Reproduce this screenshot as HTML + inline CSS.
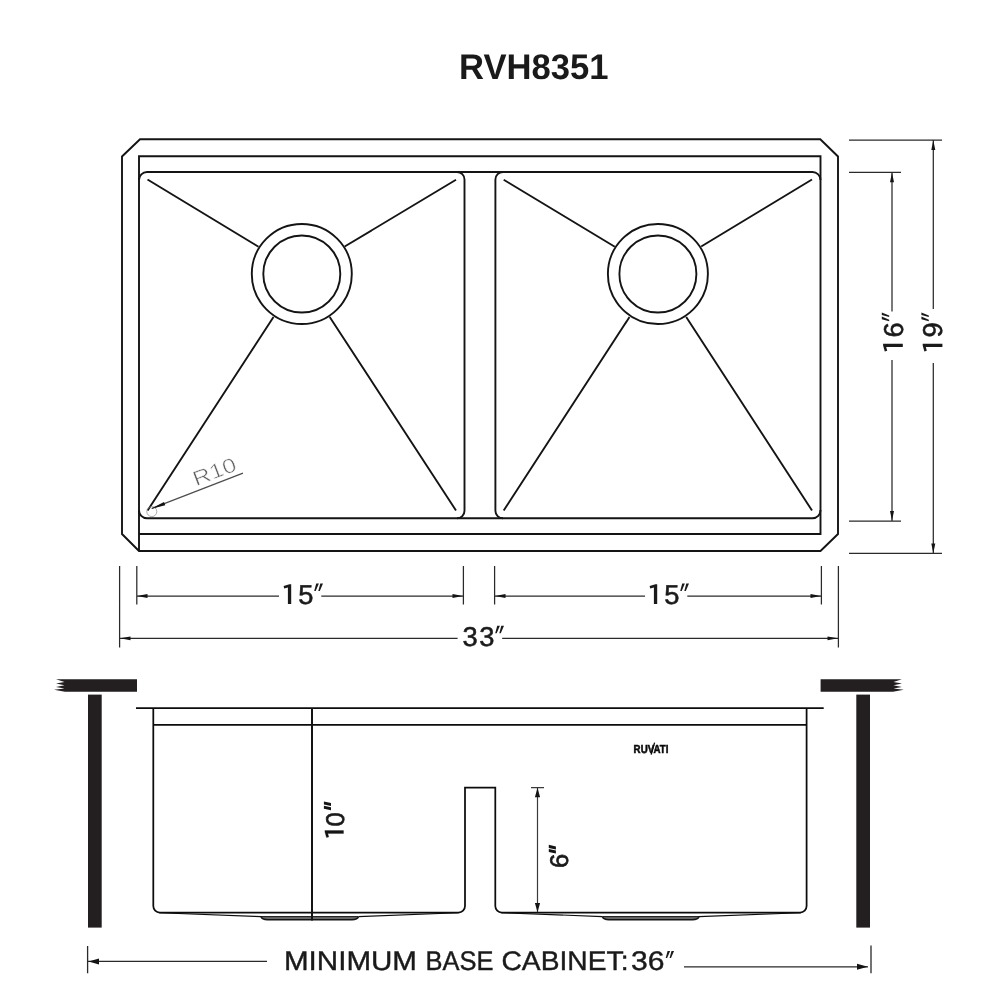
<!DOCTYPE html>
<html>
<head>
<meta charset="utf-8">
<title>RVH8351</title>
<style>
  html, body { margin: 0; padding: 0; background: #ffffff; }
  body { width: 1000px; height: 1000px; overflow: hidden; font-family: "Liberation Sans", sans-serif; }
  svg { display: block; position: absolute; left: 0; top: 0; }
  text { font-family: "Liberation Sans", sans-serif; fill: #1a1a1a; text-rendering: geometricPrecision; }
</style>
</head>
<body>
<svg width="1000" height="1000" viewBox="0 0 1000 1000">
  <rect x="0" y="0" width="1000" height="1000" fill="#ffffff"/>
  <defs><filter id="idf" x="0" y="0" width="1000" height="1000" filterUnits="userSpaceOnUse"><feOffset dx="0" dy="0"/></filter></defs>
  <g id="all" filter="url(#idf)">

  <!-- ================= TITLE ================= -->
  <text id="title" x="533.8" y="79.2" font-size="35.6" font-weight="bold" text-anchor="middle" textLength="149.5" lengthAdjust="spacingAndGlyphs">RVH8351</text>

  <!-- ================= TOP VIEW ================= -->
  <g id="topview" fill="none" stroke="#141414" stroke-width="1.9" stroke-linecap="butt" stroke-linejoin="miter">
    <!-- outer chamfered outline -->
    <path d="M140 139.2 H820.3 L838 156.5 V534 L820.5 551 H139 L122 534 V156.5 Z"/>
    <!-- inner ledge -->
    <path d="M139 551 V156.2 H820.5 V534 H139"/>
    <!-- bowls -->
    <path d="M139 180 A8 8 0 0 1 147 172 H457 A7.5 7.5 0 0 1 464.5 179.5 V510.7 A7.5 7.5 0 0 1 457 518.3 H147 A8 8 0 0 1 139 510"/>
    <path d="M820.5 180 A8 8 0 0 0 812.5 172 H503 A7.5 7.5 0 0 0 495.4 179.5 V510.7 A7.5 7.5 0 0 0 503 518.3 H812.5 A8 8 0 0 0 820.5 510"/>
    <path d="M457 172 H503 M457 518.3 H503"/>
    <!-- drains -->
    <circle cx="301.8" cy="274" r="50"/>
    <circle cx="301.8" cy="274" r="38.5"/>
    <circle cx="657.9" cy="274" r="50"/>
    <circle cx="657.9" cy="274" r="38.5"/>
    <!-- creases left bowl -->
    <path d="M147.5 179.5 L258.5 246.8 M456 179.8 L344.7 246.5 M147.6 510.4 L273.5 317 M456 510.4 L329.7 317"/>
    <!-- creases right bowl -->
    <path d="M503.7 179.8 L614.8 246.8 M812 179.5 L701.2 246.5 M503.7 510.4 L629.5 317 M812 510.4 L686.2 317"/>
  </g>

  <!-- R10 callout -->
  <g id="r10" fill="none" stroke="#4d4d4d" stroke-width="1.25">
    <path d="M152 508.4 L243 473.2"/>
    <circle cx="151.8" cy="511.6" r="5" stroke="#8a8a8a" stroke-width="0.7"/>
    <path d="M150.5 508.9 L165.3 505.3 L164 501.9 Z" fill="#141414" stroke="none"/>
  </g>
  <text x="0" y="0" font-size="20.5" transform="translate(196 486.2) rotate(-21)" textLength="45" lengthAdjust="spacingAndGlyphs" style="fill:#606060" stroke="#ffffff" stroke-width="0.55">R10</text>

  <!-- ================= DIMENSIONS (top view) ================= -->
  <g id="dims" fill="none" stroke="#2a2a2a" stroke-width="1.25">
    <!-- right extension lines -->
    <path d="M849 140 H942 M849 172.3 H901 M849 521 H901 M849 553.4 H942"/>
    <!-- 16 -->
    <path d="M892 172.3 V311.5 M892 360 V521"/>
    <!-- 19 -->
    <path d="M933.3 140 V309 M933.3 363 V553.4"/>
    <!-- bottom extension lines -->
    <path d="M119.6 566 V647.5 M136.8 566 V604.5 M463.4 566 V604.5 M494.6 566 V604.5 M821.4 566 V604.5 M838.4 566 V647.5"/>
    <!-- 15 left -->
    <path d="M137 596 H279 M321.3 596 H463"/>
    <!-- 15 right -->
    <path d="M495 596 H645 M687.3 596 H821"/>
    <!-- 33 -->
    <path d="M120 638.3 H457.6 M502.2 638.3 H838"/>
  </g>
  <g id="arrows" fill="#141414" stroke="none">
    <!-- 16 arrows -->
    <path d="M892 172.5 L890 182.3 H894 Z M892 520.8 L890 511 H894 Z"/>
    <!-- 19 arrows -->
    <path d="M933.3 140.2 L931.3 150 H935.3 Z M933.3 553.2 L931.3 543.4 H935.3 Z"/>
    <!-- 15 left -->
    <path d="M137 596 L147.5 594.1 V597.9 Z M463 596 L452.5 594.1 V597.9 Z"/>
    <!-- 15 right -->
    <path d="M495 596 L505.5 594.1 V597.9 Z M821 596 L810.5 594.1 V597.9 Z"/>
    <!-- 33 -->
    <path d="M120 638.3 L130.5 636.4 V640.2 Z M838 638.3 L827.5 636.4 V640.2 Z"/>
  </g>

  <!-- dimension labels -->
  <defs>
    <path id="one" d="M7.6 -19.7 H5.9 L0 -18 L0.6 -15.6 L4.3 -16.6 V0 H7.6 Z"/>
    <path id="dp" d="M2.2 -20.4 H4.9 L1.7 -13 H0.2 Z M6.3 -20.4 H9 L5.8 -13 H4.3 Z"/>
    <path id="dpb" d="M1.5 -19.6 H4.6 L3 -12.5 H0 Z M5.7 -19.6 H8.8 L7.2 -12.5 H4.2 Z"/>
  </defs>
  <g id="labels" font-size="27.3" text-anchor="middle" fill="#1a1a1a" stroke="#1a1a1a" stroke-width="0.55">
    <g transform="translate(283.6 604)"><use href="#one" stroke="none"/><text x="22.2" y="0">5</text><use href="#dp" x="30.4" stroke="none"/></g>
    <g transform="translate(649.6 604)"><use href="#one" stroke="none"/><text x="22.2" y="0">5</text><use href="#dp" x="30.4" stroke="none"/></g>
    <g transform="translate(0 646.2)"><text x="470.2" y="0">3</text><text x="486.8" y="0">3</text><use href="#dp" x="495" stroke="none"/></g>
    <g transform="translate(902.8 351.4) rotate(-90)"><use href="#one" stroke="none"/><text x="21.4" y="0">6</text><use href="#dp" x="30" y="-0.6" stroke="none"/></g>
    <g transform="translate(942.4 351.4) rotate(-90)"><use href="#one" stroke="none"/><text x="21.4" y="0">9</text><use href="#dp" x="30" y="-0.6" stroke="none"/></g>
  </g>

  <!-- ================= SIDE VIEW ================= -->
  <!-- countertop + cabinet walls -->
  <g id="cabinet" fill="#231f20" stroke="none">
    <path d="M137 679.2 H56 L64.5 682 L56 683.6 L64.5 685.2 L56 686.9 L64.5 688.4 L54 689.7 L65 691.8 H137 Z"/>
    <rect x="88" y="694.6" width="13.7" height="233"/>
    <path d="M820.6 679.2 H901.8 L893.5 682 L902 683.6 L893.5 685.2 L901.8 686.9 L893.5 688.4 L903.8 689.7 L893 691.8 H820.6 Z"/>
    <rect x="856.3" y="694.6" width="13.7" height="233"/>
  </g>

  <g id="sideview" fill="none" stroke="#0c0c0c" stroke-width="1.75">
    <!-- rim line -->
    <path d="M136 708 H823.7"/>
    <!-- second line -->
    <path d="M153.3 724.8 H806.6"/>
    <!-- left bowl -->
    <path d="M153.3 708 V906 A6.5 6.5 0 0 0 159.8 912.5 H458.5 A6.5 6.5 0 0 0 465 906 V787.6 H495.3 V906 A6.5 6.5 0 0 0 501.8 912.5 H800.1 A6.5 6.5 0 0 0 806.6 906 V708"/>
    <!-- sloped bottoms -->
    <path d="M159 912.7 L261 916.6 M458.5 912.7 L358.5 916.6" stroke-width="1.1"/>
    <path d="M501 912.7 L602.4 916.6 M801 912.7 L699 916.6" stroke-width="1.1"/>
  </g>
  <!-- drains side -->
  <g id="sidedrains" fill="none" stroke="#141414">
    <path d="M261 916.6 H358.5 Q357.5 919.7 352.0 919.7 H267.5 Q262 919.7 261 916.6 Z" fill="#6a6a6a" stroke="none"/>
    <path d="M261 916.6 H358.5" stroke-width="1"/>
    <path d="M261 916.8 Q262 919.7 267.5 919.7 H352.0 Q357.5 919.7 358.5 916.8" stroke-width="1.5"/>
    <path d="M602.4 916.6 H699 Q698 919.7 692.5 919.7 H608.9 Q603.4 919.7 602.4 916.6 Z" fill="#6a6a6a" stroke="none"/>
    <path d="M602.4 916.6 H699" stroke-width="1"/>
    <path d="M602.4 916.8 Q603.4 919.7 608.9 919.7 H692.5 Q698 919.7 699 916.8" stroke-width="1.5"/>
  </g>

  <!-- 10" dim -->
  <path d="M312 708 V920.5" fill="none" stroke="#141414" stroke-width="2"/>
  <!-- 6" dim -->
  <g fill="none" stroke="#3a3a3a" stroke-width="1.2">
    <path d="M537.5 787.6 V912.3 M531 787.6 H544"/>
  </g>
  <path d="M537.5 787.8 L534.9 797.3 H540.1 Z M537.5 912.3 L534.9 903 H540.1 Z" fill="#141414"/>

  <g id="labels2" font-size="25.6" text-anchor="middle" fill="#141414" stroke="#141414" stroke-width="0.65">
    <g transform="translate(343.5 837.5) rotate(-90)"><use href="#one" transform="scale(0.92 0.944)" stroke-width="0.3"/><text x="18.25" y="0">0</text><use href="#dpb" x="27.2" stroke="none"/></g>
    <g transform="translate(568.4 867.9) rotate(-90)"><text x="6.9" y="0">6</text><use href="#dpb" x="14.3" stroke="none"/></g>
  </g>

  <!-- RUVATI logo -->
  <text x="633.6" y="752.9" font-size="11.6" font-weight="bold" textLength="34.8" lengthAdjust="spacingAndGlyphs" style="fill:#0a0a0a" stroke="#0a0a0a" stroke-width="0.55">RUVATI</text>
  <path d="M651.2 754.6 L654.6 742.6" stroke="#0a0a0a" stroke-width="1.3" fill="none"/>

  <!-- ================= BASE CABINET DIM ================= -->
  <g fill="none" stroke="#2a2a2a" stroke-width="1.3">
    <path d="M87.6 946 V973.3 M871 945.5 V973.3"/>
    <path d="M88 961.4 H267 M684 966.8 H868"/>
  </g>
  <path d="M88.5 961.4 L99 958.4 V964.4 Z M867.8 966.8 L857 963.8 V969.8 Z" fill="#141414"/>
  <g id="cab" font-size="26.9" fill="#1a1a1a" stroke="#1a1a1a" stroke-width="0.4">
    <text id="w1" x="284" y="969.7" textLength="133" lengthAdjust="spacingAndGlyphs">MINIMUM</text>
    <text id="w2" x="425.5" y="969.7" textLength="68" lengthAdjust="spacingAndGlyphs">BASE</text>
    <text id="w3" x="501.5" y="969.7" textLength="127" lengthAdjust="spacingAndGlyphs">CABINET:</text>
    <text id="w4" x="631" y="969.7" textLength="33.5" lengthAdjust="spacingAndGlyphs">36</text>
  </g>
  <use href="#dp" transform="translate(665.5 970.3) scale(0.95)" fill="#1a1a1a"/>
  </g>
</svg>
</body>
</html>
